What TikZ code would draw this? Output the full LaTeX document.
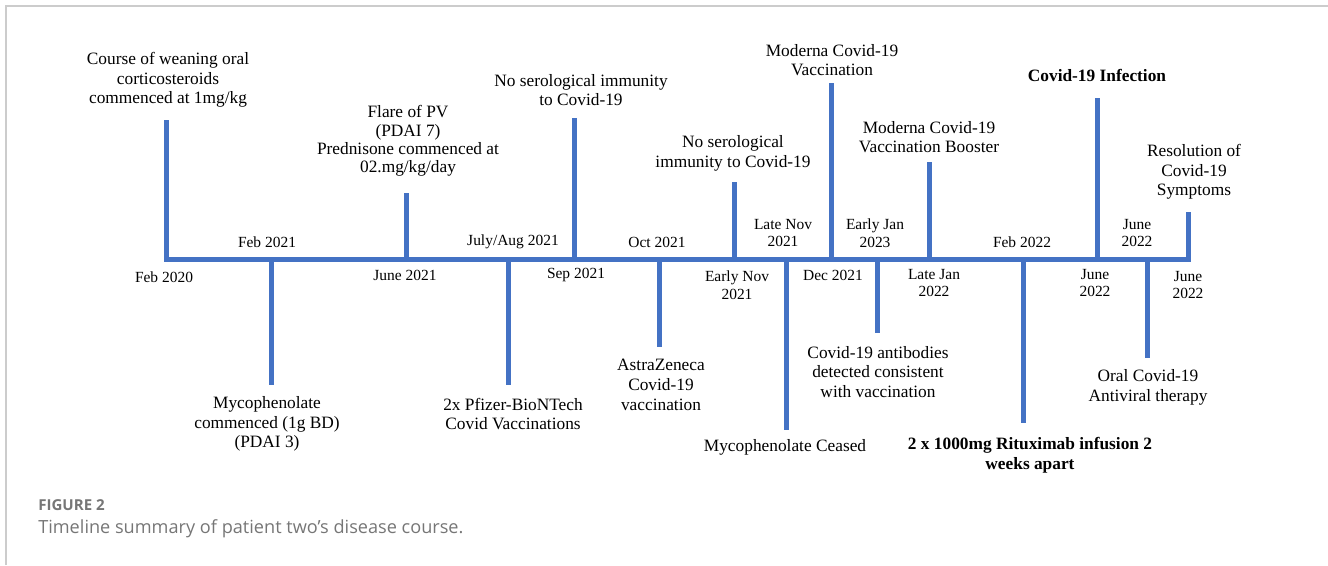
\documentclass[tikz,border=0pt]{standalone}
\usepackage{fontspec}
\setmainfont{Liberation Serif}
\newfontfamily\capfont{Open Sans}
\definecolor{tlblue}{HTML}{4472C4}
\definecolor{capgray}{HTML}{767676}
\definecolor{framegray}{HTML}{CCCCCC}
\tikzset{
  stem/.style={draw=tlblue, line width=3.75pt},
  axis/.style={draw=tlblue, line width=3.75pt, line join=miter},
  lbl/.style={align=center, inner sep=0pt, font=\fontsize{13}{14.8}\selectfont},
  lbltight/.style={align=center, inner sep=0pt, font=\fontsize{13}{13.8}\selectfont},
  lblb/.style={lbl, font=\fontsize{13}{14.8}\selectfont\bfseries},
  dlbl/.style={align=center, inner sep=0pt, font=\fontsize{11.6}{13.2}\selectfont},
}
\begin{document}
\begin{tikzpicture}[x=0.75pt, y=-0.75pt]
\useasboundingbox (0,0) rectangle (1328,565);
\draw[framegray, line width=1.2pt] (6,565) -- (6,6) -- (1328,6);
% axis points and stem ends
\coordinate (a1) at (166,259); \coordinate (t1) at (166,120);
\coordinate (a2) at (271,259); \coordinate (t2) at (271,385);
\coordinate (a3) at (406,259); \coordinate (t3) at (406,193);
\coordinate (a4) at (508,259); \coordinate (t4) at (508,385);
\coordinate (a5) at (574,259); \coordinate (t5) at (574,118);
\coordinate (a6) at (659,259); \coordinate (t6) at (659,347);
\coordinate (a7) at (734,259); \coordinate (t7) at (734,182);
\coordinate (a8) at (786,259); \coordinate (t8) at (786,430);
\coordinate (a9) at (831,259); \coordinate (t9) at (831,83);
\coordinate (a10) at (877,259); \coordinate (t10) at (877,333);
\coordinate (a11) at (929,259); \coordinate (t11) at (929,162);
\coordinate (a12) at (1023,259); \coordinate (t12) at (1023,423);
\coordinate (a13) at (1097,259); \coordinate (t13) at (1097,98);
\coordinate (a14) at (1147,259); \coordinate (t14) at (1147,358);
\coordinate (a15) at (1188,259); \coordinate (t15) at (1188,212);
\path[axis] (t1) -- (a1) -- (a15) -- (t15);
\foreach \i in {2,...,14} { \path[stem] (a\i) -- (t\i); }
% event labels
\node[lbl] (e1) at (168,80) {Course of weaning oral\\corticosteroids\\commenced at 1mg/kg};
\node[lbl] (e2) at (267,424) {Mycophenolate\\commenced (1g BD)\\(PDAI 3)};
\node[lbltight] (e3) at (408,141) {Flare of PV\\(PDAI 7)\\Prednisone commenced at\\02.mg/kg/day};
\node[lbl] (e4) at (513,414) {2x Pfizer-BioNTech\\Covid Vaccinations};
\node[lbl] (e5) at (581,90) {No serological immunity\\to Covid-19};
\node[lbl] (e6) at (661,385) {AstraZeneca\\Covid-19\\vaccination};
\node[lbl] (e7) at (733,153) {No serological\\immunity to Covid-19};
\node[lbl] (e8) at (785,447) {Mycophenolate Ceased};
\node[lbl] (e9) at (832,60) {Moderna Covid-19\\Vaccination};
\node[lbl] (e10) at (878,372) {Covid-19 antibodies\\detected consistent\\with vaccination};
\node[lbl] (e11) at (929,137) {Moderna Covid-19\\Vaccination Booster};
\node[lblb] (e12) at (1030,455) {2 x 1000mg Rituximab infusion 2\\weeks apart};
\node[lblb] (e13) at (1097,75) {Covid-19 Infection};
\node[lbl] (e14) at (1148,387) {Oral Covid-19\\Antiviral therapy};
\node[lbl] (e15) at (1194,172) {Resolution of\\Covid-19\\Symptoms};
% dates
\node[dlbl] (d1) at (164,277) {Feb 2020};
\node[dlbl] (d2) at (267,242) {Feb 2021};
\node[dlbl] (d3) at (405,275) {June 2021};
\node[dlbl] (d4) at (513,242) {July/Aug 2021};
\node[dlbl] (d5) at (576,275) {Sep 2021};
\node[dlbl] (d6) at (657,242) {Oct 2021};
\node[dlbl] (d7) at (737,285) {Early Nov\\2021};
\node[dlbl] (d8) at (783,233) {Late Nov\\2021};
\node[dlbl] (d9) at (833,275) {Dec 2021};
\node[dlbl] (d10) at (875,233) {Early Jan\\2023};
\node[dlbl] (d11) at (934,283) {Late Jan\\2022};
\node[dlbl] (d12) at (1022,242) {Feb 2022};
\node[dlbl] (d13) at (1095,283) {June\\2022};
\node[dlbl] (d14) at (1137,233) {June\\2022};
\node[dlbl] (d15) at (1188,285) {June\\2022};
% caption
\node[anchor=west, inner sep=0pt, text=capgray, font=\capfont\fontsize{11.3}{13}\selectfont\bfseries] (fig) at (38,505) {FIGURE 2};
\node[anchor=west, inner sep=0pt, text=capgray, font=\capfont\fontsize{13.6}{15}\selectfont] (cap) at (38,529) {Timeline summary of patient two’s disease course.};
\end{tikzpicture}
\end{document}
